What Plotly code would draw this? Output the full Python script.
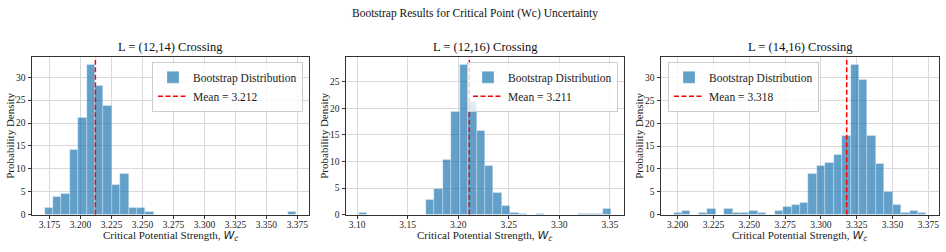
import plotly.graph_objects as go

# ---------------- data ----------------
panel_titles = ["L = (12,14) Crossing", "L = (12,16) Crossing", "L = (14,16) Crossing"]

# histogram densities (30 bins each)
dens_1214 = [1.4, 3.9, 4.5, 14.1, 21.2, 32.8, 28.2, 23.8, 6.5, 9.0,
             1.4, 1.4, 0.7, 0, 0, 0, 0, 0, 0, 0,
             0, 0, 0, 0, 0, 0, 0, 0, 0, 0.7]
dens_1216 = [0.25, 0, 0, 0, 0, 0, 0, 0, 2.7, 4.9,
             10.4, 19.3, 28.3, 21.3, 15.7, 9.1, 4.2, 1.7, 0.43, 0.2,
             0, 0.2, 0, 0, 0, 0, 0.2, 0.2, 0.2, 1.0]
dens_1416 = [0.43, 0.93, 0, 0.43, 1.3, 0, 1.3, 0.43, 0.43, 0.93,
             0.43, 0, 0.93, 1.64, 2.07, 2.5, 9.0, 10.6, 11.4, 13.1,
             17.2, 32.9, 29.5, 17.2, 11.1, 5.0, 2.07, 0.43, 0.93, 0.43]

# bin range (min, max of bootstrap samples)
bins_1214 = (3.1710, 3.3742)
bins_1216 = (3.1015, 3.3515)
bins_1416 = (3.1972, 3.3736)

means = [3.212, 3.211, 3.318]

xticks_1214 = [3.175, 3.200, 3.225, 3.250, 3.275, 3.300, 3.325, 3.350, 3.375]
xticks_1216 = [3.10, 3.15, 3.20, 3.25, 3.30, 3.35]
xticks_1416 = [3.200, 3.225, 3.250, 3.275, 3.300, 3.325, 3.350, 3.375]
yticks = [0, 5, 10, 15, 20, 25, 30]

x_label = "Critical Potential Strength, <span style='font-family:DejaVu Sans'><i>W<sub>c</sub></i></span>"
y_label = "Probability Density"
main_title = "Bootstrap Results for Critical Point (Wc) Uncertainty"

# ---------------- figure ----------------
W, H = 946, 252
FONT = "Liberation Serif, Times New Roman, serif"
BAR = "rgba(31,119,180,0.7)"
TXT = "#222222"

panels = [
    (dens_1214, bins_1214, means[0], xticks_1214, "{:.3f}"),
    (dens_1216, bins_1216, means[1], xticks_1216, "{:.2f}"),
    (dens_1416, bins_1416, means[2], xticks_1416, "{:.3f}"),
]

dom_x = [(32 / W, 309 / W), (346 / W, 624 / W), (661 / W, 939 / W)]
dom_y = ((252 - 219) / H, (252 - 58) / H)
ylab_x = [10, 324, 639]

legend_pos = [
    dict(x=303 / W, xanchor="right"),
    dict(x=618 / W, xanchor="right"),
    dict(x=668 / W, xanchor="left"),
]

fig = go.Figure()
layout = {}
annotations = []

for i, (dens, (lo, hi), mean, xt, fmt) in enumerate(panels):
    n = len(dens)
    w = (hi - lo) / n
    centers = [lo + (k + 0.5) * w for k in range(n)]
    sfx = "" if i == 0 else str(i + 1)
    leg = "legend" + sfx
    ymax = max(dens) * 1.05
    span = hi - lo

    fig.add_trace(go.Bar(
        x=centers, y=dens, width=[w] * n,
        marker=dict(color=BAR, line=dict(color="rgba(255,255,255,0.6)", width=0.5)),
        name="Bootstrap Distribution",
        xaxis="x" + sfx, yaxis="y" + sfx, legend=leg, showlegend=True,
    ))
    fig.add_trace(go.Scatter(
        x=[mean, mean], y=[0, ymax], mode="lines",
        line=dict(color="red", width=1.5, dash="5px,2.5px"),
        name=f"Mean = {mean:.3f}",
        xaxis="x" + sfx, yaxis="y" + sfx, legend=leg, showlegend=True,
    ))

    layout["xaxis" + sfx] = dict(
        domain=list(dom_x[i]), anchor="y" + sfx,
        range=[lo - 0.05 * span, hi + 0.05 * span],
        tickvals=xt, ticktext=[fmt.format(v) for v in xt],
        showgrid=True, gridcolor="#d9d9d9", gridwidth=1,
        showline=True, linecolor="#333333", linewidth=1, mirror=True,
        ticks="outside", ticklen=3.5, tickcolor="#333333",
        tickfont=dict(family=FONT, size=9.5, color=TXT),
        ticklabelstandoff=-3,
        zeroline=False,
    )
    layout["yaxis" + sfx] = dict(
        domain=list(dom_y), anchor="x" + sfx,
        range=[0, ymax],
        tickvals=yticks,
        showgrid=True, gridcolor="#d9d9d9", gridwidth=1,
        showline=True, linecolor="#333333", linewidth=1, mirror=True,
        ticks="outside", ticklen=3.5, tickcolor="#333333",
        tickfont=dict(family=FONT, size=9.5, color=TXT),
        zeroline=False,
    )
    layout[leg] = dict(
        **legend_pos[i], y=(252 - 63) / H, yanchor="top",
        bgcolor="rgba(255,255,255,0.8)", bordercolor="#cccccc", borderwidth=1,
        font=dict(family=FONT, size=11.5, color=TXT),
        tracegroupgap=0, itemwidth=30,
    )
    annotations.append(dict(
        text=panel_titles[i], xref="paper", yref="paper",
        x=(dom_x[i][0] + dom_x[i][1]) / 2, y=dom_y[1], yshift=1,
        xanchor="center", yanchor="bottom", showarrow=False,
        font=dict(family=FONT, size=12.5, color="#111111"),
    ))
    annotations.append(dict(
        text=x_label, xref="paper", yref="paper",
        x=(dom_x[i][0] + dom_x[i][1]) / 2, y=0, yshift=2,
        xanchor="center", yanchor="bottom", showarrow=False,
        font=dict(family=FONT, size=11, color=TXT),
    ))
    annotations.append(dict(
        text=y_label, xref="paper", yref="paper",
        x=ylab_x[i] / W, y=(dom_y[0] + dom_y[1]) / 2, textangle=-90,
        xanchor="center", yanchor="middle", showarrow=False,
        font=dict(family=FONT, size=11, color=TXT),
    ))

annotations.append(dict(
    text=main_title,
    xref="paper", yref="paper", x=475 / W, y=1, yshift=-5,
    xanchor="center", yanchor="top", showarrow=False,
    font=dict(family=FONT, size=11.5, color="#111111"),
))

fig.update_layout(
    width=W, height=H,
    margin=dict(l=0, r=0, t=0, b=0),
    paper_bgcolor="white", plot_bgcolor="white",
    bargap=0, showlegend=True,
    annotations=annotations,
    **layout,
)

fig.write_html("out.html", config={"displayModeBar": False},
               post_script="document.body.style.margin='0px';")
